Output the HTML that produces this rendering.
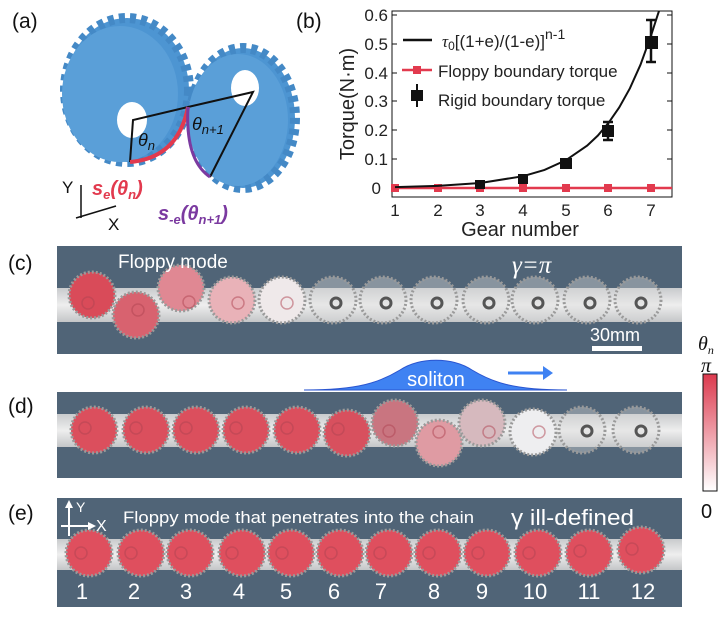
<!DOCTYPE html>
<html><head><meta charset="utf-8"><style>
html,body{margin:0;padding:0;background:#fff;}
svg{display:block;font-family:"Liberation Sans",sans-serif;}
</style></head><body>
<svg width="728" height="624" viewBox="0 0 728 624" xmlns="http://www.w3.org/2000/svg">
<defs>
<linearGradient id="strip" x1="0" y1="0" x2="0" y2="1">
<stop offset="0" stop-color="#c9cbcd"/><stop offset="0.5" stop-color="#eeeeee"/><stop offset="1" stop-color="#c4c6c8"/></linearGradient>
<linearGradient id="cb" x1="0" y1="0" x2="0" y2="1">
<stop offset="0" stop-color="#dc3a4e"/><stop offset="1" stop-color="#ffffff"/></linearGradient>
</defs>

<!-- panel a -->
<text x="12" y="28" font-size="21" fill="#111">(a)</text>
<g>
<ellipse cx="127" cy="90" rx="62" ry="72" fill="#4d95d2" stroke="#4489c6" stroke-width="10" stroke-dasharray="6 5"/>
<ellipse cx="120" cy="94" rx="58" ry="68" fill="#5a9fd8"/>
<ellipse cx="132" cy="120" rx="15" ry="18" fill="#fff"/>
<ellipse cx="243" cy="118" rx="52" ry="70" fill="#4d95d2" stroke="#4489c6" stroke-width="10" stroke-dasharray="6 5"/>
<ellipse cx="238" cy="120" rx="50" ry="66" fill="#5a9fd8"/>
<ellipse cx="245" cy="88" rx="14" ry="18" fill="#fff"/>
<polyline points="130,162 133,120 188,107 253,92 210,177" fill="none" stroke="#111" stroke-width="2"/>
<path d="M130,162 Q178,158 188,107" fill="none" stroke="#e23a4e" stroke-width="4"/>
<path d="M188,107 Q185,160 210,177" fill="none" stroke="#7b3aa0" stroke-width="3"/>
<text x="138" y="146" font-size="18" font-style="italic" fill="#111">θ<tspan font-size="13" dy="4">n</tspan></text>
<text x="192" y="130" font-size="18" font-style="italic" fill="#111">θ<tspan font-size="13" dy="4">n+1</tspan></text>
<text x="92" y="195" font-size="20" font-weight="bold" font-style="italic" fill="#e23a4e">s<tspan font-size="13" dy="4">e</tspan><tspan dy="-4">(θ</tspan><tspan font-size="13" dy="4">n</tspan><tspan dy="-4">)</tspan></text>
<text x="158" y="220" font-size="20" font-weight="bold" font-style="italic" fill="#7b3aa0">s<tspan font-size="13" dy="4">-e</tspan><tspan dy="-4">(θ</tspan><tspan font-size="13" dy="4">n+1</tspan><tspan dy="-4">)</tspan></text>
<text x="62" y="193" font-size="17" fill="#111">Y</text>
<text x="108" y="230" font-size="17" fill="#111">X</text>
<line x1="81" y1="218" x2="81" y2="185" stroke="#111" stroke-width="1.5"/>
<line x1="76" y1="218" x2="116" y2="206" stroke="#111" stroke-width="1.5"/>
</g>

<!-- panel b -->
<text x="296" y="28" font-size="21" fill="#111">(b)</text>
<rect x="392" y="11" width="280" height="186" fill="none" stroke="#111" stroke-width="1"/>
<g stroke="#111" stroke-width="1">
<line x1="392" y1="15" x2="397" y2="15"/><line x1="392" y1="44" x2="397" y2="44"/><line x1="392" y1="73" x2="397" y2="73"/><line x1="392" y1="101" x2="397" y2="101"/><line x1="392" y1="130" x2="397" y2="130"/><line x1="392" y1="159" x2="397" y2="159"/>
<line x1="667" y1="15" x2="672" y2="15"/><line x1="667" y1="44" x2="672" y2="44"/><line x1="667" y1="73" x2="672" y2="73"/><line x1="667" y1="101" x2="672" y2="101"/><line x1="667" y1="130" x2="672" y2="130"/><line x1="667" y1="159" x2="672" y2="159"/>
</g>
<g font-size="17" fill="#222" text-anchor="end">
<text x="388" y="21">0.6</text><text x="388" y="50">0.5</text><text x="388" y="79">0.4</text><text x="388" y="107">0.3</text><text x="388" y="136">0.2</text><text x="388" y="165">0.1</text><text x="381" y="194">0</text>
</g>
<g font-size="17" fill="#222" text-anchor="middle">
<text x="395" y="216">1</text><text x="438" y="216">2</text><text x="480" y="216">3</text><text x="523" y="216">4</text><text x="566" y="216">5</text><text x="608" y="216">6</text><text x="651" y="216">7</text>
</g>
<text x="520" y="236" font-size="20" fill="#222" text-anchor="middle">Gear number</text>
<text transform="translate(354,104) rotate(-90)" font-size="20" fill="#222" text-anchor="middle">Torque(N·m)</text>
<line x1="392" y1="188" x2="672" y2="188" stroke="#e23a4e" stroke-width="2.5"/>
<g fill="#e23a4e">
<rect x="391" y="184" width="8" height="8"/><rect x="434" y="184" width="8" height="8"/><rect x="476" y="184" width="8" height="8"/><rect x="519" y="184" width="8" height="8"/><rect x="562" y="184" width="8" height="8"/><rect x="604" y="184" width="8" height="8"/><rect x="647" y="184" width="8" height="8"/>
</g>
<path d="M395,187.1 L437.7,185.9 L480.4,183 L523.1,176.2 L544.5,169.9 L565.8,160.3 L587.2,145.6 L597.9,135.5 L608.5,122.9 L619.2,107.5 L629.9,88.3 L640.5,64.7 L651.2,35.1 L654.6,24.5 L657.6,15.2 L659,11" fill="none" stroke="#111" stroke-width="2"/>
<g fill="#111">
<rect x="475" y="180" width="10" height="9"/><rect x="518" y="174" width="10" height="10"/><rect x="560" y="158" width="12" height="11"/><rect x="602" y="125" width="12" height="12"/><rect x="645" y="36" width="13" height="13"/>
</g>
<g stroke="#111" stroke-width="2.5">
<line x1="608" y1="122" x2="608" y2="140"/><line x1="603" y1="122" x2="613" y2="122"/><line x1="603" y1="140" x2="613" y2="140"/>
<line x1="651" y1="20" x2="651" y2="62"/><line x1="646" y1="20" x2="656" y2="20"/><line x1="646" y1="62" x2="656" y2="62"/>
</g>
<line x1="403" y1="40" x2="432" y2="40" stroke="#111" stroke-width="2.5"/>
<text x="442" y="47" font-size="17" fill="#222"><tspan font-style="italic" font-family="Liberation Serif,serif">τ</tspan><tspan font-size="12" dy="3">0</tspan><tspan dy="-3">[(1+e)/(1-e)]</tspan><tspan font-size="14" dy="-8">n-1</tspan></text>
<line x1="402" y1="70" x2="432" y2="70" stroke="#e23a4e" stroke-width="2.5"/>
<rect x="413" y="66" width="8" height="8" fill="#e23a4e"/>
<text x="438" y="77" font-size="17" fill="#222">Floppy boundary torque</text>
<line x1="417" y1="84" x2="417" y2="107" stroke="#111" stroke-width="2"/>
<rect x="411" y="90" width="12" height="11" fill="#111"/>
<text x="438" y="106" font-size="17" fill="#222">Rigid boundary torque</text>

<!-- panel c -->
<text x="8" y="270" font-size="21" fill="#111">(c)</text>
<rect x="57" y="246" width="625" height="108" fill="#506477"/>
<rect x="57" y="288" width="625" height="34" fill="url(#strip)"/>
<g stroke="#9a9a9a" stroke-width="3" stroke-dasharray="2 2">
<circle cx="92" cy="295" r="23" fill="#d94b59"/>
<circle cx="136" cy="315" r="23" fill="#d8626f"/>
<circle cx="181" cy="288" r="23" fill="#e08893"/>
<circle cx="232" cy="300" r="23" fill="#e9b2b8"/>
<circle cx="282" cy="300" r="23" fill="#efe9ea"/>
<circle cx="333" cy="300" r="23" fill="#dcdcdc" fill-opacity="0.4"/>
<circle cx="383" cy="300" r="23" fill="#dcdcdc" fill-opacity="0.4"/>
<circle cx="434" cy="300" r="23" fill="#dcdcdc" fill-opacity="0.4"/>
<circle cx="486" cy="300" r="23" fill="#dcdcdc" fill-opacity="0.4"/>
<circle cx="535" cy="300" r="23" fill="#dcdcdc" fill-opacity="0.4"/>
<circle cx="587" cy="300" r="23" fill="#dcdcdc" fill-opacity="0.4"/>
<circle cx="638" cy="300" r="23" fill="#dcdcdc" fill-opacity="0.4"/>
</g>
<g fill="none" stroke="#555" stroke-width="3">
<circle cx="336" cy="303" r="5"/><circle cx="386" cy="303" r="5"/><circle cx="437" cy="303" r="5"/><circle cx="489" cy="303" r="5"/><circle cx="538" cy="303" r="5"/><circle cx="590" cy="303" r="5"/><circle cx="641" cy="303" r="5"/>
</g>
<g fill="none" stroke="#b04452" stroke-opacity="0.5" stroke-width="1.5">
<circle cx="88" cy="303" r="6"/><circle cx="138" cy="310" r="6"/><circle cx="189" cy="302" r="6"/><circle cx="238" cy="303" r="6"/><circle cx="287" cy="303" r="6"/>
</g>
<text x="118" y="268" font-size="19" fill="#fff">Floppy mode</text>
<text x="512" y="273" font-size="25" font-style="italic" fill="#fff" font-family="Liberation Serif,serif">γ=π</text>
<text x="590" y="341" font-size="18" fill="#fff">30mm</text>
<rect x="592" y="346" width="50" height="5" fill="#fff"/>

<!-- soliton -->
<path d="M304,390 C360,390 380,382 400,370 C420,357 452,357 472,370 C492,382 512,390 567,390 Z" fill="#3f82f2" stroke="#2a55d0" stroke-width="1"/>
<text x="436" y="386" font-size="20" fill="#fff" text-anchor="middle">soliton</text>
<line x1="508" y1="373" x2="545" y2="373" stroke="#3f82f2" stroke-width="3"/>
<polygon points="543,366 553,373 543,380" fill="#3f82f2"/>

<!-- panel d -->
<text x="8" y="413" font-size="21" fill="#111">(d)</text>
<rect x="57" y="392" width="625" height="86" fill="#506477"/>
<rect x="57" y="414" width="625" height="33" fill="url(#strip)"/>
<g stroke="#9a9a9a" stroke-width="3" stroke-dasharray="2 2">
<circle cx="94" cy="430" r="23" fill="#db4f5d"/>
<circle cx="146" cy="430" r="23" fill="#db4f5d"/>
<circle cx="196" cy="430" r="23" fill="#db4f5d"/>
<circle cx="246" cy="430" r="23" fill="#db4f5d"/>
<circle cx="297" cy="430" r="23" fill="#db4f5d"/>
<circle cx="347" cy="433" r="23" fill="#d8505e"/>
<circle cx="395" cy="423" r="23" fill="#c97580"/>
<circle cx="439" cy="443" r="23" fill="#df9ba3"/>
<circle cx="482" cy="423" r="23" fill="#d6b9be"/>
<circle cx="533" cy="432" r="23" fill="#eeeef0"/>
<circle cx="582" cy="430" r="23" fill="#dcdcdc" fill-opacity="0.4"/>
<circle cx="636" cy="430" r="23" fill="#dcdcdc" fill-opacity="0.4"/>
</g>
<g fill="none" stroke="#b04452" stroke-opacity="0.5" stroke-width="1.5">
<circle cx="85" cy="428" r="6"/><circle cx="136" cy="428" r="6"/><circle cx="186" cy="428" r="6"/><circle cx="236" cy="428" r="6"/><circle cx="287" cy="428" r="6"/><circle cx="338" cy="429" r="6"/><circle cx="389" cy="431" r="6"/><circle cx="439" cy="432" r="6"/><circle cx="489" cy="432" r="6"/><circle cx="539" cy="432" r="6"/>
</g>
<g fill="none" stroke="#555" stroke-width="3"><circle cx="587" cy="431" r="5"/><circle cx="641" cy="431" r="5"/></g>

<!-- colorbar -->
<text x="698" y="350" font-size="20" font-style="italic" fill="#111" font-family="Liberation Serif,serif">θ<tspan font-size="12" dy="4">n</tspan></text>
<text x="701" y="372" font-size="20" font-style="italic" fill="#111" font-family="Liberation Serif,serif">π</text>
<rect x="703" y="374" width="14" height="117" fill="url(#cb)" stroke="#111" stroke-width="1"/>
<text x="701" y="518" font-size="20" fill="#111">0</text>

<!-- panel e -->
<text x="8" y="520" font-size="21" fill="#111">(e)</text>
<rect x="57" y="498" width="625" height="109" fill="#506477"/>
<rect x="57" y="539" width="625" height="31" fill="url(#strip)"/>
<g stroke="#9a9a9a" stroke-width="3" stroke-dasharray="2 2" fill="#df4f5e">
<circle cx="89" cy="553" r="23"/><circle cx="141" cy="553" r="23"/><circle cx="190" cy="553" r="23"/><circle cx="242" cy="553" r="23"/><circle cx="291" cy="553" r="23"/><circle cx="340" cy="553" r="23"/><circle cx="389" cy="553" r="23"/><circle cx="438" cy="553" r="23"/><circle cx="487" cy="553" r="23"/><circle cx="538" cy="553" r="23"/><circle cx="589" cy="553" r="23"/><circle cx="641" cy="550" r="23"/>
</g>
<g fill="none" stroke="#b04452" stroke-opacity="0.5" stroke-width="1.5">
<circle cx="81" cy="553" r="6"/><circle cx="131" cy="553" r="6"/><circle cx="181" cy="553" r="6"/><circle cx="232" cy="553" r="6"/><circle cx="282" cy="553" r="6"/><circle cx="331" cy="553" r="6"/><circle cx="380" cy="553" r="6"/><circle cx="429" cy="553" r="6"/><circle cx="478" cy="553" r="6"/><circle cx="529" cy="553" r="6"/><circle cx="580" cy="551" r="6"/><circle cx="632" cy="549" r="6"/>
</g>
<g stroke="#fff" stroke-width="2">
<line x1="69" y1="536" x2="69" y2="504"/><line x1="61" y1="526" x2="92" y2="526"/>
</g>
<polygon points="65,508 69,500 73,508" fill="#fff"/>
<polygon points="88,522 96,526 88,530" fill="#fff"/>
<text x="76" y="512" font-size="14" fill="#fff">Y</text>
<text x="96" y="531" font-size="16" fill="#fff">X</text>
<text x="123" y="523" font-size="17" fill="#fff" textLength="351" lengthAdjust="spacingAndGlyphs">Floppy mode that penetrates into the chain</text>
<text x="511" y="525" font-size="22" fill="#fff" textLength="123" lengthAdjust="spacingAndGlyphs">γ ill-defined</text>
<g font-size="22" fill="#fff" text-anchor="middle">
<text x="82" y="599">1</text><text x="134" y="599">2</text><text x="186" y="599">3</text><text x="239" y="599">4</text><text x="286" y="599">5</text><text x="334" y="599">6</text><text x="381" y="599">7</text><text x="434" y="599">8</text><text x="482" y="599">9</text><text x="535" y="599">10</text><text x="589" y="599">11</text><text x="643" y="599">12</text>
</g>
</svg>
</body></html>
